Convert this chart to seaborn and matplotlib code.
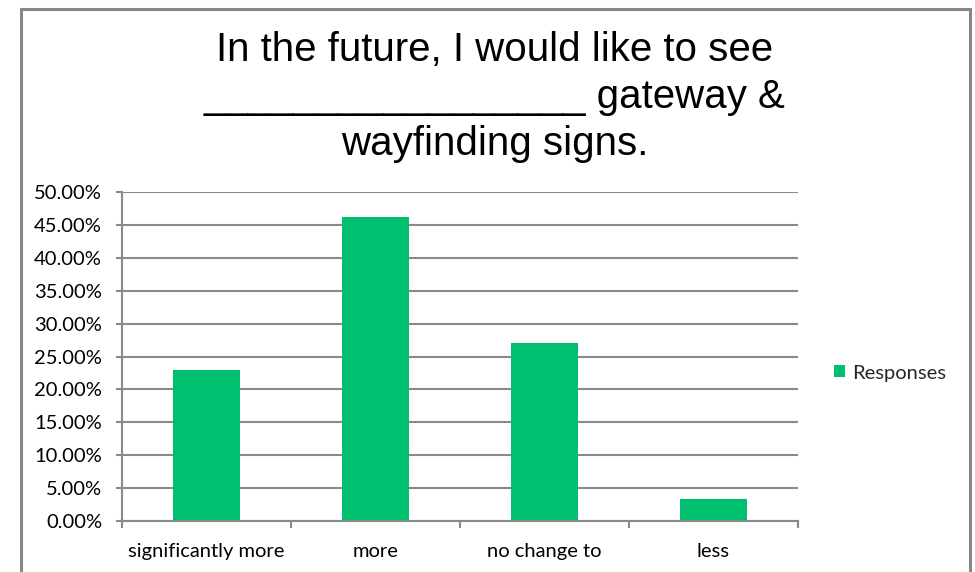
import matplotlib
matplotlib.use("Agg")
import matplotlib.pyplot as plt
import seaborn as sns
import pandas as pd
from matplotlib.patches import Rectangle
from matplotlib.ticker import FuncFormatter, FixedLocator

categories = ["significantly more", "more", "no change to", "less"]
responses = [23.0, 46.2, 27.0, 3.4]
yticks = [0, 5, 10, 15, 20, 25, 30, 35, 40, 45, 50]
series_name = "Responses"
title_text = "In the future, I would like to see\n_________________ gateway &\nwayfinding signs."

sns.set_theme(style="white")
plt.rcParams['font.family'] = ['Lato', 'DejaVu Sans']

df = pd.DataFrame({"category": categories, "value": responses, "series": series_name})

fig = plt.figure(figsize=(9.75, 5.72), dpi=100)
ax = fig.add_axes([122/975, 1 - 521/572, (798 - 122)/975, (521 - 192)/572])

green = "#00BF6F"
grid_c = "#898989"

sns.barplot(data=df, x="category", y="value", hue="series", palette=[green],
            width=0.4, ax=ax, saturation=1, edgecolor="none", linewidth=0)

ax.set_ylim(0, 50)
ax.set_xlim(-0.5, 3.5)
ax.yaxis.set_major_locator(FixedLocator(yticks))
ax.yaxis.set_major_formatter(FuncFormatter(lambda v, p: f"{v:.2f}%"))
ax.grid(axis="y", color=grid_c, linewidth=1.5)
ax.set_axisbelow(True)
ax.set_xlabel("")
ax.set_ylabel("")

for s in ["top", "right"]:
    ax.spines[s].set_visible(False)
for s in ["left", "bottom"]:
    ax.spines[s].set_color(grid_c)
    ax.spines[s].set_linewidth(1.5)

ax.tick_params(axis="y", which="major", length=4.3, width=1.5, color=grid_c,
               labelsize=14.5, labelcolor="#000000", pad=10, left=True)
ax.tick_params(axis="x", which="major", length=0, labelsize=14.5,
               labelcolor="#000000", pad=16)
ax.xaxis.set_minor_locator(FixedLocator([-0.5, 0.5, 1.5, 2.5, 3.5]))
ax.tick_params(axis="x", which="minor", length=5, width=1.5, color=grid_c, bottom=True)

leg = ax.legend(loc="center left", bbox_to_anchor=((834 - 122)/(798 - 122), (521 - 373)/(521 - 192)),
                frameon=False, fontsize=14.5, handlelength=0.55, handleheight=0.55,
                handletextpad=0.35, borderaxespad=0, borderpad=0)

fig.text(495/975, 1 - 97/572, title_text, ha="center", va="center",
         fontsize=29, family=["Liberation Sans", "DejaVu Sans"],
         linespacing=1.30, color="#000000")

fig.patches.append(Rectangle((21/975, -0.1), (970 - 21)/975, (572 - 9)/572 + 0.1,
                             transform=fig.transFigure, fill=False,
                             edgecolor="#878787", linewidth=2.2))

fig.savefig("out.png", dpi=100, facecolor="white")
